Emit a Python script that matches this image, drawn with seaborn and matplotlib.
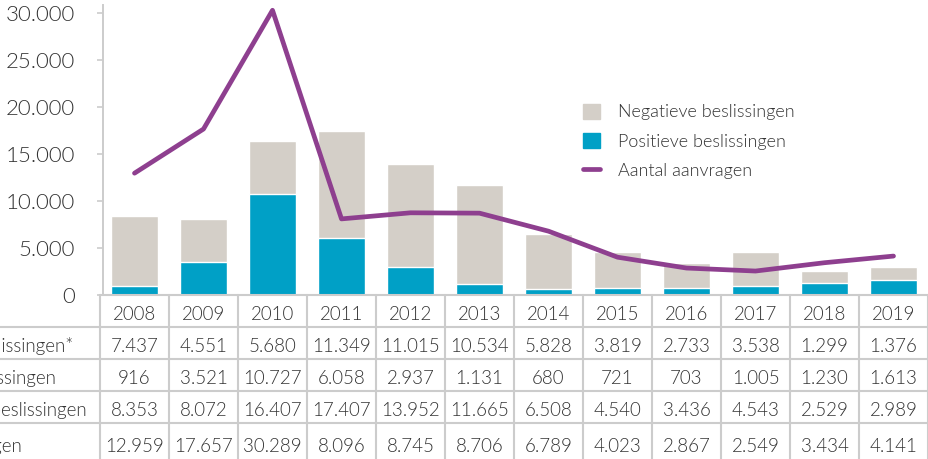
import numpy as np
import pandas as pd
import seaborn as sns
import matplotlib.pyplot as plt
from matplotlib.patches import Patch
from matplotlib.lines import Line2D
from matplotlib.ticker import FuncFormatter

# Gegevens
jaren = ['2008', '2009', '2010', '2011', '2012', '2013', '2014', '2015', '2016', '2017', '2018', '2019']
negatief = [7437, 4551, 5680, 11349, 11015, 10534, 5828, 3819, 2733, 3538, 1299, 1376]
positief = [916, 3521, 10727, 6058, 2937, 1131, 680, 721, 703, 1005, 1230, 1613]
totaal = [8353, 8072, 16407, 17407, 13952, 11665, 6508, 4540, 3436, 4543, 2529, 2989]
aanvragen = [12959, 17657, 30289, 8096, 8745, 8706, 6789, 4023, 2867, 2549, 3434, 4141]
rij_labels = ['Negatieve beslissingen*', 'Positieve beslissingen',
              'Totaal aantal beslissingen', 'Aantal aanvragen']

grijs = '#d4cfc8'
blauw = '#00a0c6'
paars = '#8e3f8f'
tekst = '#333333'
lijn = '#cccccc'

sns.set_style('white')
plt.rcParams['font.family'] = ['Lato', 'DejaVu Sans']
plt.rcParams['font.weight'] = 300

def nl(v, pos=None):
    return f'{int(v):,}'.replace(',', '.')

df = pd.DataFrame({'jaar': jaren, 'negatief': negatief, 'positief': positief,
                   'totaal': totaal, 'aanvragen': aanvragen})
df['x'] = np.arange(len(df))

W, H = 929, 459
fig = plt.figure(figsize=(W / 100, H / 100), dpi=100)
ax = fig.add_axes([100 / W, 164 / H, 828 / W, 290 / H])

# Gestapelde staven: totaal (grijs) met positief (blauw) eroverheen
sns.barplot(data=df, x='jaar', y='totaal', color=grijs, width=0.67,
            saturation=1, ax=ax)
sns.barplot(data=df, x='jaar', y='positief', color=blauw, width=0.67,
            saturation=1, ax=ax)
sns.lineplot(data=df, x='x', y='aanvragen', color=paars, linewidth=3.4,
             sort=False, ax=ax)

ax.set_xlim(-0.5, 11.5)
ax.set_ylim(0, 30850)
ax.set_yticks(range(0, 30001, 5000))
ax.yaxis.set_major_formatter(FuncFormatter(nl))
ax.set_xticks([])
ax.set_xlabel('')
ax.set_ylabel('')
for s in ['top', 'right', 'bottom']:
    ax.spines[s].set_visible(False)
ax.spines['left'].set_color('#cccccc')
ax.spines['left'].set_linewidth(1.4)
ax.spines['left'].set_position(('outward', -2))
ax.tick_params(axis='y', left=True, length=4, width=1.2, color='#cccccc',
               labelsize=16, labelcolor=tekst, pad=16)

handles = [Patch(color=grijs), Patch(color=blauw),
           Line2D([0], [0], color=paars, linewidth=3.4)]
ax.legend(handles, ['Negatieve beslissingen', 'Positieve beslissingen', 'Aantal aanvragen'],
          loc='upper left', bbox_to_anchor=(0.575, 0.685), frameon=False,
          fontsize=13, handlelength=0.9, handleheight=0.9, labelspacing=0.7,
          handletextpad=1.0, labelcolor=tekst, borderaxespad=0)

# Tabel onder de grafiek
tab = fig.add_axes([100 / W, 0, 828 / W, 164 / H])
tab.set_xlim(-0.5, 11.5)
tab.set_ylim(164 / 32, 0)
tab.axis('off')
x_links = -0.5 - 100 / 69
for k in range(13):
    tab.plot([-0.5 + k, -0.5 + k], [0, 164 / 32], color=lijn, lw=1.5, clip_on=False)
tab.plot([-0.5, 11.5], [0, 0], color=lijn, lw=1.5, clip_on=False)
for r in range(1, 5):
    tab.plot([x_links, 11.5], [r, r], color=lijn, lw=1.5, clip_on=False)

rijen = [negatief, positief, totaal, aanvragen]
dy = [0.6, 0.6, 0.6, 0.62, 0.72]
for i, j in enumerate(jaren):
    tab.text(i, dy[0], j, ha='center', va='center', fontsize=13.5, color=tekst)
    for r, reeks in enumerate(rijen):
        tab.text(i, r + 1 + dy[r + 1], nl(reeks[i]), ha='center', va='center',
                 fontsize=13.5, color=tekst)

# Rijlabels links uitgelijnd; het begin valt buiten de figuur, zoals in het origineel
labels = [tab.text(0, r + 1 + dy[r + 1], lab, ha='left', va='center', fontsize=13.5,
                   color=tekst, clip_on=False) for r, lab in enumerate(rij_labels)]
fig.canvas.draw()
rend = fig.canvas.get_renderer()
breedte = max(t.get_window_extent(rend).width for t in labels)
start_px = 87 - breedte
for t in labels:
    x_data = tab.transData.inverted().transform((start_px, 0))[0]
    t.set_x(x_data)

plt.savefig('out.png', dpi=100)
